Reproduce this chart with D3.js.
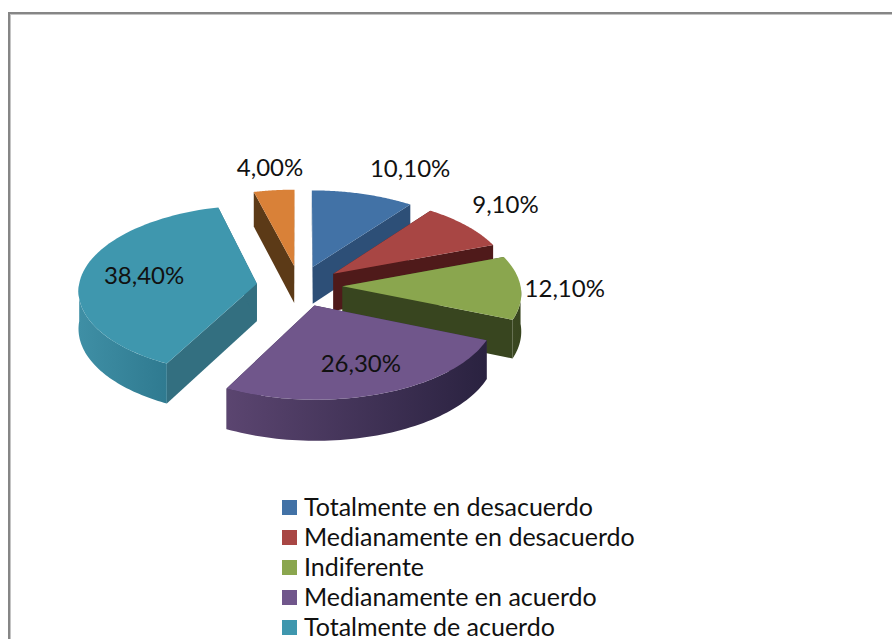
<!DOCTYPE html>
<html>
<head>
<meta charset="utf-8">
<script src="https://cdn.jsdelivr.net/npm/d3@7"></script>
<style>
  html, body { margin: 0; padding: 0; background: #fff; overflow: hidden; }
  text { font-family: Lato, "Open Sans", sans-serif; fill: #111; }
</style>
</head>
<body>
<svg id="chart" width="892" height="639"></svg>
<script>
const legendNames = ["Totalmente en desacuerdo", "Medianamente en desacuerdo", "Indiferente", "Medianamente en acuerdo", "Totalmente de acuerdo"];
const values = [10.1, 9.1, 12.1, 26.3, 38.4, 4.0];
const valueLabels = ["10,10%", "9,10%", "12,10%", "26,30%", "38,40%", "4,00%"];

const topColors = ["#4272a6", "#a84644", "#8aa64e", "#70568b", "#3f97ae", "#d98138"];
const sideColors = ["#2d4f77", "#4f1a1a", "#38451f", "#3a2c4c", "#336f80", "#5c3a17"];
const wallLeft = ["#2d4f77", "#5c1f1f", "#3a4720", "#5b4570", "#3f8fa5", "#5c3a17"];
const wallRight = ["#2d4f77", "#4f1a1a", "#38451f", "#2a2240", "#2f7a90", "#5c3a17"];
const labelNudge = [[47, -26], [39, -22], [44, 0], [-21, -31], [62, 0], [-4, -24]];

// pie geometry, fitted against the picture
const cx = 299.5, cy = 286, radius = 178, explode = 43, depth = 37.5;
const tilt = 0.475, viewDist = 2500;

const svg = d3.select("#chart");

function project(u, v, z) {
  let s = viewDist / (viewDist - v);
  return [cx + u * s, cy + (v * tilt + z) * s];
}

function point(d, angle, r, z) {
  let mid = (d.startAngle + d.endAngle) / 2;
  let u = explode * Math.sin(mid) + r * Math.sin(angle);
  let v = -explode * Math.cos(mid) - r * Math.cos(angle);
  return project(u, v, z);
}

function arcAngles(a0, a1) {
  return d3.range(0, 61).map(i => a0 + (a1 - a0) * i / 60);
}

const line = d3.line();
const slices = d3.pie().sort(null).startAngle(0).endAngle(2 * Math.PI)(values);

const defs = svg.append("defs");

// border of the chart area, runs off the page right and below
svg.append("rect").attr("x", 10.5).attr("y", 14.5).attr("width", 900).attr("height", 700)
  .attr("fill", "none").attr("stroke", "#c4c4c4").attr("stroke-width", 1);
svg.append("rect").attr("x", 9).attr("y", 13).attr("width", 900).attr("height", 700)
  .attr("fill", "none").attr("stroke", "#868686").attr("stroke-width", 2);

// back to front
const order = slices.slice().sort((a, b) =>
  -Math.cos((a.startAngle + a.endAngle) / 2) + Math.cos((b.startAngle + b.endAngle) / 2));

order.forEach(function(d) {
  let i = d.index;
  let g = svg.append("g").attr("class", "slice");

  // radial walls
  [d.startAngle, d.endAngle].forEach(function(a) {
    g.append("path")
      .attr("d", line([point(d, a, 0, 0), point(d, a, radius, 0), point(d, a, radius, depth), point(d, a, 0, depth)]) + "Z")
      .attr("fill", sideColors[i]);
  });

  // outer wall, only the part that faces the viewer
  let a0 = Math.max(d.startAngle, Math.PI / 2);
  let a1 = Math.min(d.endAngle, 3 * Math.PI / 2);
  if (a1 > a0) {
    let angles = arcAngles(a0, a1);
    let upper = angles.map(a => point(d, a, radius, 0));
    let lower = angles.map(a => point(d, a, radius, depth)).reverse();
    let pts = upper.concat(lower);
    let grad = defs.append("linearGradient").attr("id", "wall" + i)
      .attr("gradientUnits", "userSpaceOnUse")
      .attr("x1", d3.min(pts, p => p[0])).attr("x2", d3.max(pts, p => p[0]))
      .attr("y1", 0).attr("y2", 0);
    grad.append("stop").attr("offset", 0).attr("stop-color", wallLeft[i]);
    grad.append("stop").attr("offset", 1).attr("stop-color", wallRight[i]);
    g.append("path").attr("d", line(pts) + "Z").attr("fill", "url(#wall" + i + ")");
  }

  // top face
  let face = [point(d, 0, 0, 0)].concat(arcAngles(d.startAngle, d.endAngle).map(a => point(d, a, radius, 0)));
  g.append("path").attr("d", line(face) + "Z").attr("fill", topColors[i]);
});

// value labels
slices.forEach(function(d) {
  let i = d.index;
  let mid = (d.startAngle + d.endAngle) / 2;
  let p = point(d, mid, radius, 0);
  svg.append("text")
    .attr("x", p[0] + labelNudge[i][0])
    .attr("y", p[1] + labelNudge[i][1])
    .attr("text-anchor", "middle")
    .attr("dominant-baseline", "central")
    .attr("font-size", 24)
    .text(valueLabels[i]);
});

// legend
const legendY = d3.scalePoint().domain(legendNames).range([507.5, 627.5]);
legendNames.forEach(function(name, i) {
  svg.append("rect")
    .attr("x", 282).attr("y", legendY(name) - 7.5)
    .attr("width", 15).attr("height", 15)
    .attr("fill", topColors[i]);
  svg.append("text")
    .attr("x", 304).attr("y", legendY(name) + 8)
    .attr("font-size", 25)
    .text(name);
});
</script>
</body>
</html>
